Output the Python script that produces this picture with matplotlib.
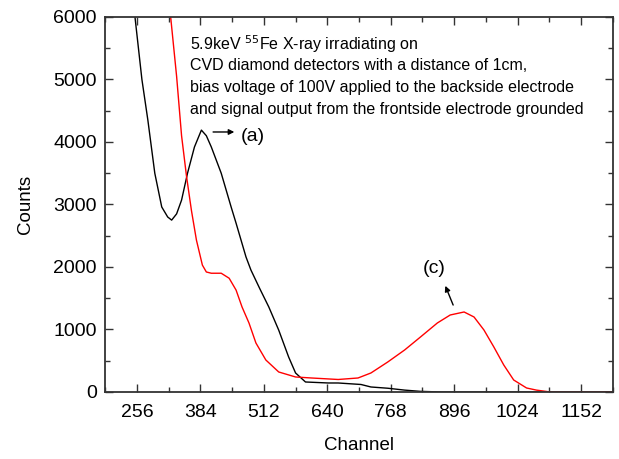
import matplotlib
matplotlib.use("Agg")
import matplotlib.pyplot as plt
from matplotlib.ticker import MultipleLocator, FixedLocator

plt.rcParams['font.family'] = ['Liberation Sans', 'DejaVu Sans']

# black spectrum (a): channel vs counts
black_ch = [244, 252, 266, 278, 292, 306, 318, 326, 336, 346, 358, 372, 386, 396,
            406, 426, 446, 456, 466, 476, 486, 504, 522, 542, 562, 576, 596, 642,
            662, 708, 728, 762, 796, 828, 870, 1216]
black_counts = [6600, 6000, 5000, 4350, 3500, 2960, 2800, 2750, 2850, 3070, 3500, 3920, 4190, 4100,
                3920, 3500, 2960, 2700, 2430, 2160, 1950, 1650, 1360, 990, 560, 304, 160, 144,
                144, 120, 80, 60, 30, 10, 0, 0]

# red spectrum (c)
red_ch = [318, 324, 336, 346, 356, 366, 376, 388, 396, 406, 416, 426, 442, 456, 468,
          482, 496, 516, 542, 576, 608, 662, 702, 728, 762, 796, 828, 862, 888, 916,
          936, 956, 976, 996, 1016, 1042, 1062, 1090, 1216]
red_counts = [6500, 6000, 5050, 4100, 3450, 2900, 2430, 2030, 1920, 1900, 1900, 1900, 1820, 1630, 1360,
              1104, 784, 512, 320, 240, 224, 200, 224, 304, 480, 672, 880, 1104, 1232, 1280,
              1200, 992, 720, 432, 192, 64, 30, 0, 0]

x_major = [256, 384, 512, 640, 768, 896, 1024, 1152]

note_lines = ["5.9keV $^{55}$Fe X-ray irradiating on",
              "CVD diamond detectors with a distance of 1cm,",
              "bias voltage of 100V applied to the backside electrode",
              "and signal output from the frontside electrode grounded"]

fig = plt.figure(figsize=(6.19, 4.59), dpi=100)
ax = fig.add_axes([0.170, 0.146, 0.820, 0.817])

ax.plot(black_ch, black_counts, color='black', lw=1.0)
ax.plot(red_ch, red_counts, color='red', lw=1.0)

ax.set_xlim(192, 1216)
ax.set_ylim(0, 6000)
ax.xaxis.set_major_locator(FixedLocator(x_major))
ax.xaxis.set_minor_locator(MultipleLocator(64))
ax.yaxis.set_major_locator(MultipleLocator(1000))
ax.yaxis.set_minor_locator(MultipleLocator(500))
ax.tick_params(which='both', direction='in', top=True, right=True,
               labeltop=False, labelright=False, width=1.0, color='#333333')
ax.tick_params(which='major', length=6, labelsize=14)
ax.tick_params(axis='x', which='major', pad=9)
ax.tick_params(axis='y', which='major', pad=6)
ax.tick_params(which='minor', length=3.5)
for s in ax.spines.values():
    s.set_linewidth(1.3)
    s.set_color('#333333')

ax.set_xlabel('Channel', fontsize=13.5, labelpad=11)
ax.set_ylabel('Counts', fontsize=13.5, labelpad=14)

# annotation block, one line at a time (positions in axes fraction)
for i, line in enumerate(note_lines):
    ax.text(0.167, 0.928 - i * 0.058, line, transform=ax.transAxes,
            fontsize=11.5, va='center', ha='left')

ax.annotate('', xy=(458, 4160), xytext=(404, 4160),
            arrowprops=dict(arrowstyle='-|>', color='black', lw=1.0, mutation_scale=8))
ax.text(490, 4080, '(a)', fontsize=14, ha='center', va='center')
ax.annotate('', xy=(876, 1740), xytext=(896, 1350),
            arrowprops=dict(arrowstyle='-|>', color='black', lw=1.0, mutation_scale=8))
ax.text(856, 1980, '(c)', fontsize=14, ha='center', va='center')

fig.savefig('out.png', dpi=100)
